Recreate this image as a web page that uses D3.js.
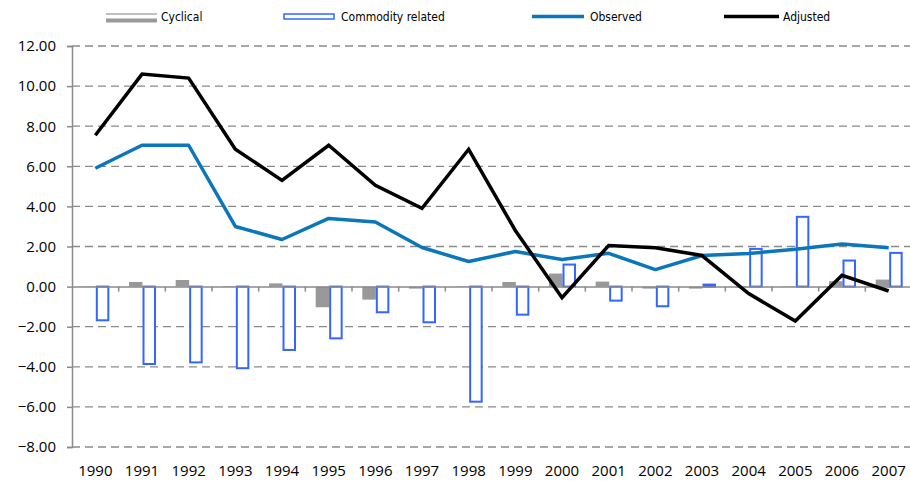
<!DOCTYPE html>
<html>
<head>
<meta charset="utf-8">
<script src="https://cdn.jsdelivr.net/npm/d3@7"></script>
<style>
  body { margin: 0; background: #fff; }
  svg { display: block; }
  .tick-label { font-family: "Open Sans", sans-serif; font-size: 15px; fill: #000; }
  .legend-label { font-family: "Liberation Sans Narrow", "DejaVu Sans Condensed", sans-serif; font-size: 12px; fill: #000; }
</style>
</head>
<body>
<svg id="chart" width="910" height="483"></svg>
<script>
// chart data
var years = ["1990","1991","1992","1993","1994","1995","1996","1997","1998",
             "1999","2000","2001","2002","2003","2004","2005","2006","2007"];
var cyclical  = [0.02, 0.23, 0.33, 0.03, 0.16, -1.03, -0.65, -0.10, -0.02,
                 0.23, 0.65, 0.25, -0.10, -0.10, -0.05, 0.02, 0.27, 0.35];
var commodity = [-1.68, -3.86, -3.78, -4.07, -3.16, -2.58, -1.28, -1.78, -5.74,
                 -1.40, 1.10, -0.70, -0.98, 0.10, 1.88, 3.48, 1.30, 1.68];
var observed  = [5.90, 7.05, 7.05, 3.00, 2.35, 3.40, 3.22, 1.95, 1.25,
                 1.75, 1.35, 1.66, 0.85, 1.55, 1.65, 1.86, 2.13, 1.94];
var adjusted  = [7.55, 10.60, 10.40, 6.85, 5.30, 7.05, 5.05, 3.90, 6.85,
                 2.80, -0.55, 2.05, 1.94, 1.55, -0.35, -1.72, 0.56, -0.22];
var yTicks = [-8, -6, -4, -2, 0, 2, 4, 6, 8, 10, 12];

var svg = d3.select("#chart");
var plotLeft = 72, plotRight = 912, plotTop = 46, plotBottom = 447;

var x = d3.scaleBand().domain(years).range([plotLeft, plotRight]);
var bw = x.bandwidth();
var xSub = d3.scaleBand().domain(["cyc", "com"]).range([bw / 2 - 13, bw / 2 + 14]);
var y = d3.scaleLinear().domain([-8, 12]).range([plotBottom, plotTop]);
var cx = function(d) { return x(d) + bw / 2; };

// dashed grid
svg.append("g").selectAll("line")
  .data(yTicks.filter(function(t) { return t != 0; }))
  .join("line")
  .attr("x1", plotLeft).attr("x2", plotRight)
  .attr("y1", function(d) { return y(d); }).attr("y2", function(d) { return y(d); })
  .attr("stroke", "#8a8a8a").attr("stroke-width", 1.3)
  .attr("stroke-dasharray", "8,5");

// y axis
var yAxis = svg.append("g")
  .attr("transform", "translate(" + plotLeft + ",0)")
  .call(d3.axisLeft(y).tickValues(yTicks).tickSize(5).tickPadding(11)
        .tickFormat(d3.format(".2f")));
yAxis.select(".domain").attr("stroke", "#8a8a8a").attr("stroke-width", 1.5);
yAxis.selectAll(".tick line").attr("stroke", "#8a8a8a").attr("stroke-width", 1.5);
yAxis.selectAll(".tick text").attr("class", "tick-label").attr("fill", "#000");

// bars
svg.append("g").selectAll("rect")
  .data(years)
  .join("rect")
  .attr("x", function(d) { return x(d) + xSub("cyc"); })
  .attr("width", xSub.bandwidth())
  .attr("y", function(d, i) { return y(Math.max(0, cyclical[i])); })
  .attr("height", function(d, i) { return Math.abs(y(cyclical[i]) - y(0)); })
  .attr("fill", "#999999");

svg.append("g").selectAll("rect")
  .data(years)
  .join("rect")
  .attr("x", function(d) { return x(d) + xSub("com") + 1; })
  .attr("width", xSub.bandwidth() - 2)
  .attr("y", function(d, i) { return y(Math.max(0, commodity[i])); })
  .attr("height", function(d, i) { return Math.abs(y(commodity[i]) - y(0)); })
  .attr("fill", "#fff").attr("stroke", "#3366ff").attr("stroke-width", 2);

// zero line with category ticks
var xAxis = svg.append("g")
  .attr("transform", "translate(0," + y(0) + ")")
  .call(d3.axisBottom(x).tickSize(0).tickFormat(""));
xAxis.select(".domain").attr("stroke", "#8a8a8a").attr("stroke-width", 1.5);
svg.append("g").selectAll("line")
  .data(years.slice(1))
  .join("line")
  .attr("x1", function(d) { return x(d); }).attr("x2", function(d) { return x(d); })
  .attr("y1", y(0)).attr("y2", y(0) + 5)
  .attr("stroke", "#8a8a8a").attr("stroke-width", 1.5);

// year labels at the bottom
svg.append("g").selectAll("text")
  .data(years)
  .join("text")
  .attr("class", "tick-label")
  .attr("x", cx)
  .attr("y", 476)
  .attr("text-anchor", "middle")
  .text(function(d) { return d; });

// lines
var line = function(vals) {
  return d3.line()
    .x(function(d, i) { return cx(years[i]); })
    .y(function(d) { return y(d); })(vals);
};
svg.append("path").attr("d", line(observed))
  .attr("fill", "none").attr("stroke", "#0a76bb").attr("stroke-width", 3.5)
  .attr("stroke-linejoin", "round");
svg.append("path").attr("d", line(adjusted))
  .attr("fill", "none").attr("stroke", "#000").attr("stroke-width", 3.5)
  .attr("stroke-linejoin", "miter");

// legend
var lg = svg.append("g");
lg.append("line").attr("x1", 106).attr("x2", 157).attr("y1", 14).attr("y2", 14)
  .attr("stroke", "#c0c0c0").attr("stroke-width", 2);
lg.append("rect").attr("x", 106).attr("y", 18.5).attr("width", 51).attr("height", 4)
  .attr("fill", "#9a9a9a");
lg.append("rect").attr("x", 284).attr("y", 14).attr("width", 50).attr("height", 5)
  .attr("fill", "#fff").attr("stroke", "#3366ff").attr("stroke-width", 1.5);
lg.append("line").attr("x1", 532).attr("x2", 584).attr("y1", 16.5).attr("y2", 16.5)
  .attr("stroke", "#0a76bb").attr("stroke-width", 3.5);
lg.append("line").attr("x1", 724).attr("x2", 779).attr("y1", 16.5).attr("y2", 16.5)
  .attr("stroke", "#000").attr("stroke-width", 3.5);
var legendItems = [["Cyclical", 161], ["Commodity related", 341], ["Observed", 590], ["Adjusted", 783]];
lg.selectAll("text")
  .data(legendItems)
  .join("text")
  .attr("class", "legend-label")
  .attr("x", function(d) { return d[1]; })
  .attr("y", 21)
  .text(function(d) { return d[0]; });
</script>
</body>
</html>
